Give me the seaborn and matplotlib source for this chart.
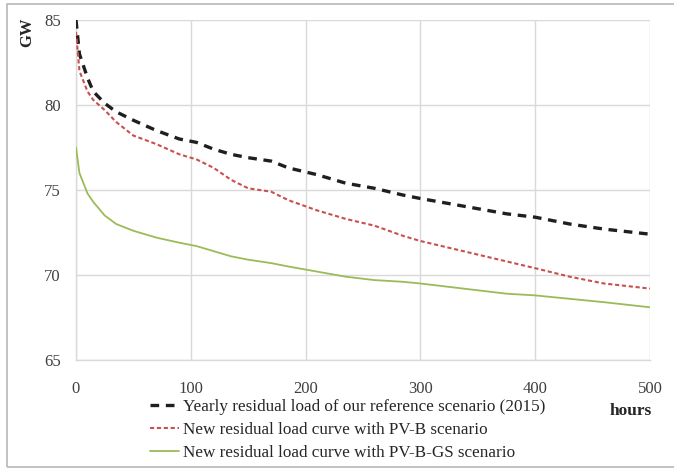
import matplotlib
matplotlib.use("Agg")
import matplotlib.pyplot as plt
from matplotlib.patches import Rectangle
from matplotlib.lines import Line2D
import seaborn as sns
import pandas as pd

# Load duration curves (GW) over the first 500 hours
hours = [0, 3, 10, 15, 25, 35, 50, 70, 90, 105, 120, 135, 150, 170, 185,
         210, 235, 260, 285, 300, 325, 350, 375, 400, 430, 460, 500]
reference_2015 = [85.0, 83.0, 81.6, 80.8, 80.1, 79.6, 79.1, 78.5, 78.0, 77.8,
                  77.4, 77.1, 76.9, 76.7, 76.3, 75.9, 75.4, 75.1, 74.7, 74.5,
                  74.2, 73.9, 73.6, 73.4, 73.0, 72.7, 72.4]
pv_b = [84.3, 82.0, 80.8, 80.3, 79.7, 79.0, 78.2, 77.7, 77.1, 76.8,
        76.3, 75.6, 75.1, 74.9, 74.4, 73.8, 73.3, 72.9, 72.3, 72.0,
        71.6, 71.2, 70.8, 70.4, 69.9, 69.5, 69.2]
pv_b_gs = [77.5, 76.0, 74.8, 74.3, 73.5, 73.0, 72.6, 72.2, 71.9, 71.7,
           71.4, 71.1, 70.9, 70.7, 70.5, 70.2, 69.9, 69.7, 69.6, 69.5,
           69.3, 69.1, 68.9, 68.8, 68.6, 68.4, 68.1]

labels = ["Yearly residual load of our reference scenario (2015)",
          "New residual load curve with PV-B scenario",
          "New residual load curve with PV-B-GS scenario"]
x_ticks = [0, 100, 200, 300, 400, 500]
y_ticks = [65, 70, 75, 80, 85]

df = pd.DataFrame({"hours": hours, "ref": reference_2015,
                   "pvb": pv_b, "pvbgs": pv_b_gs})

sns.set_theme(style="white")
plt.rcParams["font.family"] = ["Liberation Serif", "DejaVu Serif"]

W, H = 674, 470
fig = plt.figure(figsize=(W / 100, H / 100), dpi=100)
ax = fig.add_axes([76 / W, 1 - 360 / H, (650 - 76) / W, (360 - 20) / H])

styles = [
    ("ref", "#1f1f1f", 2.4, (0, (2.6, 2.0))),
    ("pvb", "#c9504f", 1.5, (0, (2.0, 1.3))),
    ("pvbgs", "#9bbb59", 1.3, "-"),
]
handles = []
for (col, color, lw, ls), lab in zip(styles, labels):
    sns.lineplot(data=df, x="hours", y=col, ax=ax, color=color,
                 linewidth=lw, linestyle=ls, zorder=3)
    handles.append(Line2D([], [], color=color, linewidth=lw, linestyle=ls))

ax.set_xlim(0, 500)
ax.set_ylim(65, 85)
ax.set_xticks(x_ticks)
ax.set_yticks(y_ticks)
ax.set_xlabel("")
ax.set_ylabel("")
ax.grid(True, color="#d9d9d9", linewidth=1.0)
for side in ["top", "right"]:
    ax.spines[side].set_visible(False)
for side in ["left", "bottom"]:
    ax.spines[side].set_color("#d9d9d9")
    ax.spines[side].set_linewidth(1.0)
ax.tick_params(axis="both", length=0, labelsize=12, labelcolor="#404040")
ax.tick_params(axis="x", pad=15)
ax.tick_params(axis="y", pad=11)

fig.text(27 / W, 1 - 32 / H, "GW", rotation=90, ha="center", va="center",
         fontsize=12, fontweight="bold", color="#262626")
fig.text(631 / W, 1 - 411 / H, "hours", ha="center", va="center",
         fontsize=12.5, fontweight="bold", color="#262626")

fig.legend(handles, labels, loc="upper left",
           bbox_to_anchor=(150 / W, 1 - 399 / H), frameon=False,
           fontsize=12.3, handlelength=1.7, handletextpad=0.25,
           borderpad=0, borderaxespad=0, labelspacing=0.42,
           labelcolor="#262626")

fig.patches.append(Rectangle((7 / W, 3 / H), 1.0, 1 - 7 / H,
                             transform=fig.transFigure, fill=False,
                             edgecolor="#b8b8b8", linewidth=1.2))

fig.savefig("out.png", dpi=100)
